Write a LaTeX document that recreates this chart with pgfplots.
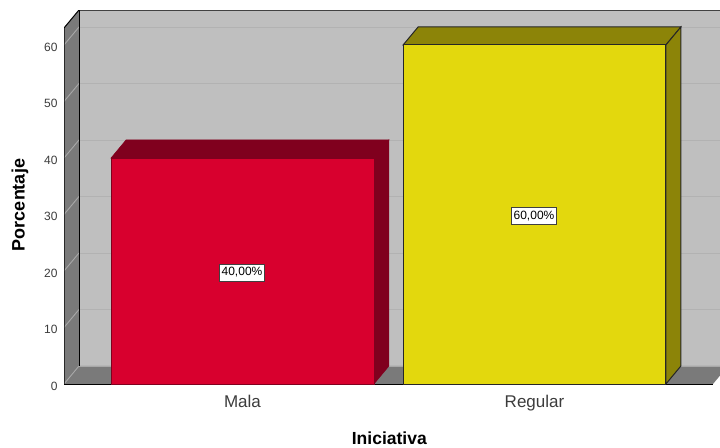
\documentclass[border=0pt]{standalone}
\usepackage{fontspec}
\setmainfont{Liberation Sans}
\usepackage{pgfplots}
\pgfplotsset{compat=1.18}
\definecolor{wallback}{HTML}{BFBFBF}
\definecolor{wallside}{HTML}{7A7A7A}
\definecolor{gridback}{HTML}{B2B2B2}
\definecolor{gridside}{HTML}{A8A8A8}
\definecolor{barred}{HTML}{D8002E}
\definecolor{barreddark}{HTML}{80001E}
\definecolor{baryellow}{HTML}{E3D80D}
\definecolor{baryellowdark}{HTML}{8C8408}
\definecolor{labelgrey}{HTML}{3C3C3C}
\begin{document}
\begin{tikzpicture}[x=1pt,y=1pt]
\path[use as bounding box] (0,0) rectangle (720,447);
\begin{axis}[
  at={(64pt,63pt)}, anchor=south west,
  scale only axis, width=656pt, height=374pt,
  xmin=-0.6113, xmax=1.6353, ymin=0, ymax=66.19,
  axis line style={draw=none},
  tick style={draw=none},
  /pgf/number format/assume math mode=true,
  xtick={0,1}, xticklabels={Mala,Regular},
  ytick={0,10,20,30,40,50,60},
  xticklabel style={font=\fontsize{17}{19}\selectfont, text=labelgrey, yshift=-8pt},
  yticklabel style={font=\fontsize{12}{14}\selectfont, text=labelgrey, xshift=-3pt, yshift=-2pt},
  xlabel={\textbf{Iniciativa}},
  ylabel={\textbf{Porcentaje}},
  xlabel style={font=\fontsize{17.5}{20}\selectfont, at={(axis description cs:0.496,0)}, anchor=north, yshift=-44pt},
  ylabel style={font=\fontsize{18}{20}\selectfont, at={(axis description cs:0,0.4786)}, anchor=south, yshift=32pt},
]
% back wall, side wall and floor
\addplot[fill=wallback, draw=none] coordinates {(-0.5599,3.19) (1.7,3.19) (1.7,66.19) (-0.5599,66.19)} -- cycle;
\addplot[fill=wallside, draw=none] coordinates {(-0.6113,0) (-0.5599,3.19) (-0.5599,66.19) (-0.6113,63.0)} -- cycle;
\addplot[fill=wallside, draw=none] coordinates {(-0.6113,0) (1.6113,0) (1.6627,3.19) (-0.5599,3.19)} -- cycle;
% grid lines on the walls
\pgfplotsinvokeforeach{10,20,30,40,50,60}{
  \addplot[gridside, line width=0.9pt] coordinates {(-0.6113,#1) (-0.5599,#1+3.19)};
  \addplot[gridback, line width=0.9pt] coordinates {(-0.5599,#1+3.19) (1.7,#1+3.19)};
}
\addplot[gridside, line width=0.9pt] coordinates {(-0.6113,0) (-0.5599,3.19)};
\addplot[gridside, line width=0.9pt] coordinates {(-0.5599,3.19) (1.6627,3.19)};
% wall edges
\addplot[black, line width=1pt] coordinates {(-0.6113,0) (-0.6113,63.0) (-0.5599,66.19) (1.7,66.19)};
\addplot[black, line width=1pt] coordinates {(-0.5599,66.19) (-0.5599,3.19)};
\addplot[black, line width=1pt] coordinates {(-0.6113,0) (1.6113,0)};
% Mala
\addplot[fill=barreddark, draw=barreddark, line width=0.6pt] coordinates {(-0.45,40) (0.45,40) (0.5014,43.19) (-0.3986,43.19)} -- cycle;
\addplot[fill=barreddark, draw=barreddark, line width=0.6pt] coordinates {(0.45,0) (0.45,40) (0.5014,43.19) (0.5014,3.19)} -- cycle;
\addplot[fill=barred, draw=barreddark, line width=0.6pt] coordinates {(-0.45,0) (-0.45,40) (0.45,40) (0.45,0)} -- cycle;
% Regular
\addplot[fill=baryellowdark, draw=black!85, line width=1pt] coordinates {(0.55,60) (1.45,60) (1.5014,63.19) (0.6014,63.19)} -- cycle;
\addplot[fill=baryellowdark, draw=black!85, line width=1pt] coordinates {(1.45,0) (1.45,60) (1.5014,63.19) (1.5014,3.19)} -- cycle;
\addplot[fill=baryellow, draw=black!85, line width=1pt] coordinates {(0.55,0) (0.55,60) (1.45,60) (1.45,0)} -- cycle;
% value labels
\node[fill=white, draw=black!75, line width=0.7pt, inner xsep=2.3pt, inner ysep=3.5pt, yshift=-1.5pt, xshift=-0.5pt, font=\fontsize{12}{14}\selectfont] at (axis cs:0,20) {40,00\%};
\node[fill=white, draw=black!75, line width=0.7pt, inner xsep=2.3pt, inner ysep=3.5pt, yshift=-1.5pt, xshift=-0.5pt, font=\fontsize{12}{14}\selectfont] at (axis cs:1,30) {60,00\%};
\end{axis}
\end{tikzpicture}
\end{document}
